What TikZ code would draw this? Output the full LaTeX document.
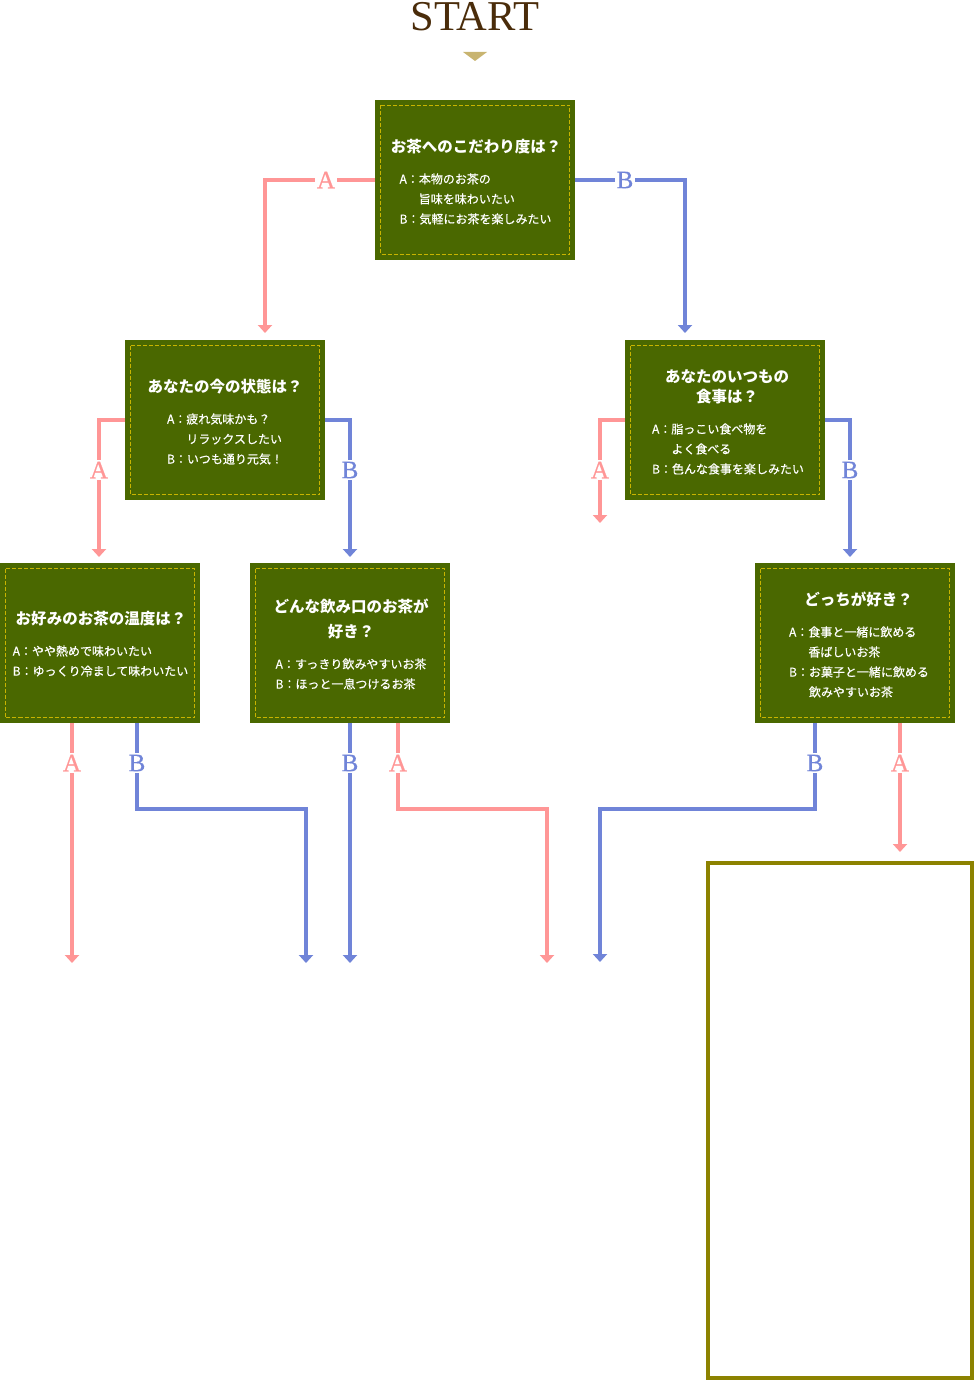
\documentclass[tikz,border=0pt]{standalone}
\usepackage{fontspec}
\newfontfamily\jp{Noto Sans CJK JP}
\newfontfamily\jpm[FakeBold=0.5]{Noto Sans CJK JP}
\newfontfamily\lserif{Liberation Serif}
\newfontfamily\lserifm[FakeBold=0.6]{Liberation Serif}
\usetikzlibrary{arrows.meta}
\definecolor{boxgreen}{HTML}{4A6800}
\definecolor{dashy}{HTML}{C8B400}
\definecolor{pinkl}{HTML}{FF9696}
\definecolor{bluel}{HTML}{7084D8}
\definecolor{startbrown}{HTML}{4A2C0A}
\definecolor{trig}{HTML}{C8B470}
\definecolor{olivel}{HTML}{8C8200}
\begin{document}
\begin{tikzpicture}[x=1pt,y=1pt,
  qbox/.style={rectangle, fill=boxgreen, minimum width=200pt, minimum height=160pt, inner sep=0pt, outer sep=0pt},
  innerdash/.style={draw=dashy, line width=0.9pt, dash pattern=on 4pt off 2pt},
  ttl/.style={text=white, font=\jp\bfseries\fontsize{15.5pt}{20pt}\selectfont, align=center, inner sep=0pt},
  bdy/.style={text=white, font=\jpm\fontsize{12pt}{20pt}\selectfont, align=left, inner sep=0pt},
  pk/.style={draw=pinkl, line width=3.5pt, -{Triangle[width=14pt,length=8pt]}},
  bl/.style={draw=bluel, line width=3.5pt, -{Triangle[width=14pt,length=8pt]}},
  lab/.style={fill=white, font=\lserifm\fontsize{25pt}{25pt}\selectfont, inner sep=1.5pt},
  labA/.style={lab, text=pinkl},
  labB/.style={lab, text=bluel},
]
\useasboundingbox (0,0) rectangle (975,-1380);

% START
\node[text=startbrown, font=\lserif\fontsize{42.5pt}{42.5pt}\selectfont, inner sep=0pt] (start) at (475,-17) {START};
\fill[trig] (463,-52) -- (487,-52) -- (475,-61) -- cycle;

% boxes
\node[qbox] (b1) at (475,-180) {};
\node[qbox] (b2) at (225,-420) {};
\node[qbox] (b3) at (725,-420) {};
\node[qbox] (b4) at (100,-643) {};
\node[qbox] (b5) at (350,-643) {};
\node[qbox] (b6) at (855,-643) {};
\foreach \b in {b1,b2,b3,b4,b5,b6}
  \draw[innerdash] ([shift={(5.5pt,-5.5pt)}]\b.north west) rectangle ([shift={(-5.5pt,5.5pt)}]\b.south east);

\node[draw=olivel, line width=4pt, minimum width=264pt, minimum height=515pt, inner sep=0pt, outer sep=0pt] (res) at (840,-1120.5) {};

% texts
\node[ttl] (t1) at (476,-147) {お茶へのこだわり度は？};
\node[bdy] (d1) at (475.5,-199) {A：本物のお茶の\\\phantom{A：}旨味を味わいたい\\B：気軽にお茶を楽しみたい};
\node[ttl] (t2) at (225,-387) {あなたの今の状態は？};
\node[bdy] (d2) at (225,-439) {A：疲れ気味かも？\\\phantom{A：}リラックスしたい\\B：いつも通り元気！};
\node[ttl] (t3) at (727,-387) {あなたのいつもの\\食事は？};
\node[bdy] (d3) at (728,-449) {A：脂っこい食べ物を\\\phantom{A：}よく食べる\\B：色んな食事を楽しみたい};
\node[ttl] (t4) at (101,-619) {お好みのお茶の温度は？};
\node[bdy] (d4) at (100.5,-661) {A：やや熱めで味わいたい\\B：ゆっくり冷まして味わいたい};
\node[ttl] (t5) at (351,-618.5) {どんな飲み口のお茶が\\[5pt]好き？};
\node[bdy] (d5) at (351,-674) {A：すっきり飲みやすいお茶\\B：ほっと一息つけるお茶};
\node[ttl] (t6) at (858.5,-599) {どっちが好き？};
\node[bdy] (d6) at (859,-662) {A：食事と一緒に飲める\\\phantom{A：}香ばしいお茶\\B：お菓子と一緒に飲める\\\phantom{B：}飲みやすいお茶};

% end coordinates
\coordinate (e1) at (265,-333);
\coordinate (e2) at (685,-333);
\coordinate (e3) at (99,-557);
\coordinate (e4) at (350,-557);
\coordinate (e5) at (600,-523);
\coordinate (e6) at (850,-557);
\coordinate (e7) at (72,-963);
\coordinate (c8) at (137,-809);
\coordinate (e8) at (306,-963);
\coordinate (e9) at (350,-963);
\coordinate (c10) at (398,-809);
\coordinate (e10) at (547,-963);
\coordinate (c11) at (815,-809);
\coordinate (e11) at (600,-962);
\coordinate (e12) at (900,-852);

% connectors
\draw[pk] (b1.west) -| (e1);
\draw[bl] (b1.east) -| (e2);
\draw[pk] (b2.west) -| (e3);
\draw[bl] (b2.east) -| (e4);
\draw[pk] (b3.west) -| (e5);
\draw[bl] (b3.east) -| (e6);
\draw[pk] (b4.south -| e7) -- (e7);
\draw[bl] (b4.south -| c8) -- (c8) -| (e8);
\draw[bl] (b5.south -| e9) -- (e9);
\draw[pk] (b5.south -| c10) -- (c10) -| (e10);
\draw[bl] (b6.south -| c11) -- (c11) -| (e11);
\draw[pk] (b6.south -| e12) -- (e12);

% labels
\node[labA] (l1) at (326,-180) {A};
\node[labB] (l2) at (625,-180) {B};
\node[labA] (l3) at (99,-470) {A};
\node[labB] (l4) at (350,-470) {B};
\node[labA] (l5) at (600,-470) {A};
\node[labB] (l6) at (850,-470) {B};
\node[labA] (l7) at (72,-763) {A};
\node[labB] (l8) at (137,-763) {B};
\node[labB] (l9) at (350,-763) {B};
\node[labA] (l10) at (398,-763) {A};
\node[labB] (l11) at (815,-763) {B};
\node[labA] (l12) at (900,-763) {A};
\end{tikzpicture}
\end{document}
